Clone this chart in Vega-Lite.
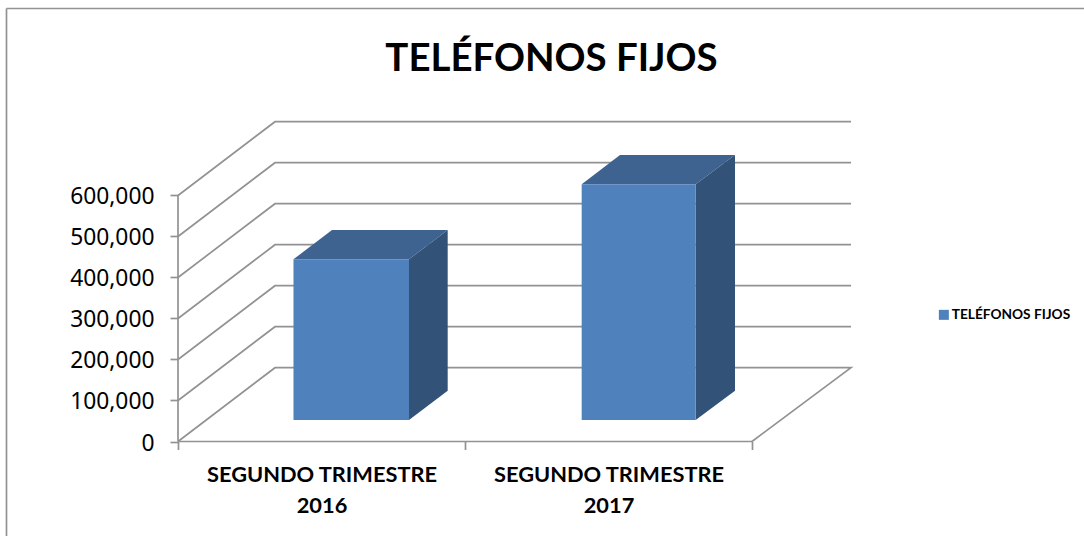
{
"$schema":"https://vega.github.io/schema/vega-lite/v6.json",
"width":673,"height":320.5,
"autosize":{"type":"none"},
"padding":{"left":178,"top":121,"right":233,"bottom":94.5},
"background":"white",
"config":{"view":{"stroke":null},"font":"Lato"},
"title":{"text":"TELÉFONOS FIJOS","font":"Lato","fontSize":38.4,"fontWeight":"bold","color":"#000000","anchor":"middle","dx":37,"offset":-74.5},
"datasets":{
"lines":[
{"s":"frame-l","x":-0.5976,"y":1056098},{"s":"frame-l","x":-0.5976,"y":-232000},
{"s":"frame-t","x":-0.5976,"y":1056098},{"s":"frame-t","x":3.157,"y":1056098},
{"s":"axis-y","x":0,"y":0},{"s":"axis-y","x":0,"y":600000},
{"s":"axis-x","x":0,"y":0},{"s":"axis-x","x":2,"y":0},
{"s":"g0","x":0,"y":0},{"s":"g0","x":0.338,"y":180000},{"s":"g0","x":2.345,"y":180000},{"s":"g0","x":2,"y":0},
{"s":"g1","x":0,"y":100000},{"s":"g1","x":0.338,"y":280000},{"s":"g1","x":2.345,"y":280000},
{"s":"g2","x":0,"y":200000},{"s":"g2","x":0.338,"y":380000},{"s":"g2","x":2.345,"y":380000},
{"s":"g3","x":0,"y":300000},{"s":"g3","x":0.338,"y":480000},{"s":"g3","x":2.345,"y":480000},
{"s":"g4","x":0,"y":400000},{"s":"g4","x":0.338,"y":580000},{"s":"g4","x":2.345,"y":580000},
{"s":"g5","x":0,"y":500000},{"s":"g5","x":0.338,"y":680000},{"s":"g5","x":2.345,"y":680000},
{"s":"g6","x":0,"y":600000},{"s":"g6","x":0.338,"y":780000},{"s":"g6","x":2.345,"y":780000}
],
"top":[
{"b":"2016","y":444390,"x1":0.4024,"x2":0.8049},{"b":"2016","y":515854,"x1":0.5366,"x2":0.9397},
{"b":"2017","y":627317,"x1":1.4066,"x2":1.8038},{"b":"2017","y":698780,"x1":1.5401,"x2":1.9408}
],
"side":[
{"b":"2016","x":0.8049,"y":444390,"y2":52439},{"b":"2016","x":0.9397,"y":515854,"y2":123902},
{"b":"2017","x":1.8038,"y":627317,"y2":52439},{"b":"2017","x":1.9408,"y":698780,"y2":123902}
],
"front":[
{"serie":"TELÉFONOS FIJOS","b":"2016","x1":0.4024,"x2":0.8049,"y":444390,"y2":52439},
{"serie":"TELÉFONOS FIJOS","b":"2017","x1":1.4066,"x2":1.8038,"y":627317,"y2":52439}
]
},
"layer":[
{"data":{"name":"lines"},
"mark":{"type":"line","color":"#929292","strokeWidth":1.7,"clip":false},
"encoding":{
"x":{"field":"x","type":"quantitative","sort":null,"scale":{"domain":[0,2.345],"nice":false,"zero":false},
"axis":{"values":[0,0.5,1,1.5,2],"title":null,"grid":false,"domain":false,"tickSize":8,"tickColor":"#929292","tickWidth":1.7,
"tickOpacity":{"condition":{"test":"datum.value==0.5||datum.value==1.5","value":0},"value":1},
"labelExpr":"datum.value==0.5?['SEGUNDO TRIMESTRE','2016']:datum.value==1.5?['SEGUNDO TRIMESTRE','2017']:''",
"labelFont":"Lato","labelFontWeight":"bold","labelFontSize":21.8,"labelColor":"#000000","labelLineHeight":31,"labelPadding":15,"labelLimit":0,"labelOverlap":false,"labelFlush":false,"labelBound":false}},
"y":{"field":"y","type":"quantitative","scale":{"domain":[0,781707],"nice":false,"zero":false},
"axis":{"values":[0,100000,200000,300000,400000,500000,600000],"format":",d","title":null,"grid":false,"domain":false,"tickSize":8,"tickColor":"#929292","tickWidth":1.7,
"labelFont":"Noto Sans","labelFontSize":22.8,"labelColor":"#000000","labelPadding":16,"labelOffset":1.5,"labelOverlap":false,"labelFlush":false,"labelBound":false}},
"detail":{"field":"s"},
"order":{"field":"__none"}
}},
{"data":{"name":"top"},
"mark":{"type":"area","orient":"horizontal","color":"#3E6390","clip":false},
"encoding":{
"y":{"field":"y","type":"quantitative"},
"x":{"field":"x1","type":"quantitative"},
"x2":{"field":"x2"},
"detail":{"field":"b"}
}},
{"data":{"name":"side"},
"mark":{"type":"area","orient":"vertical","color":"#325277","clip":false},
"encoding":{
"x":{"field":"x","type":"quantitative"},
"y":{"field":"y","type":"quantitative"},
"y2":{"field":"y2"},
"detail":{"field":"b"}
}},
{"data":{"name":"front"},
"mark":{"type":"rect","clip":false},
"encoding":{
"x":{"field":"x1","type":"quantitative"},
"x2":{"field":"x2"},
"y":{"field":"y","type":"quantitative"},
"y2":{"field":"y2"},
"color":{"field":"serie","type":"nominal","scale":{"range":["#4F81BD"]},
"legend":{"orient":"none","legendX":759,"legendY":187,"title":null,"padding":0,"symbolType":"square","symbolSize":100,"symbolStrokeWidth":0,"symbolOpacity":1,"labelFont":"Lato","labelFontWeight":"bold","labelFontSize":13.7,"labelColor":"#000000","labelOffset":1,"labelLimit":0}}
}}
]
}
